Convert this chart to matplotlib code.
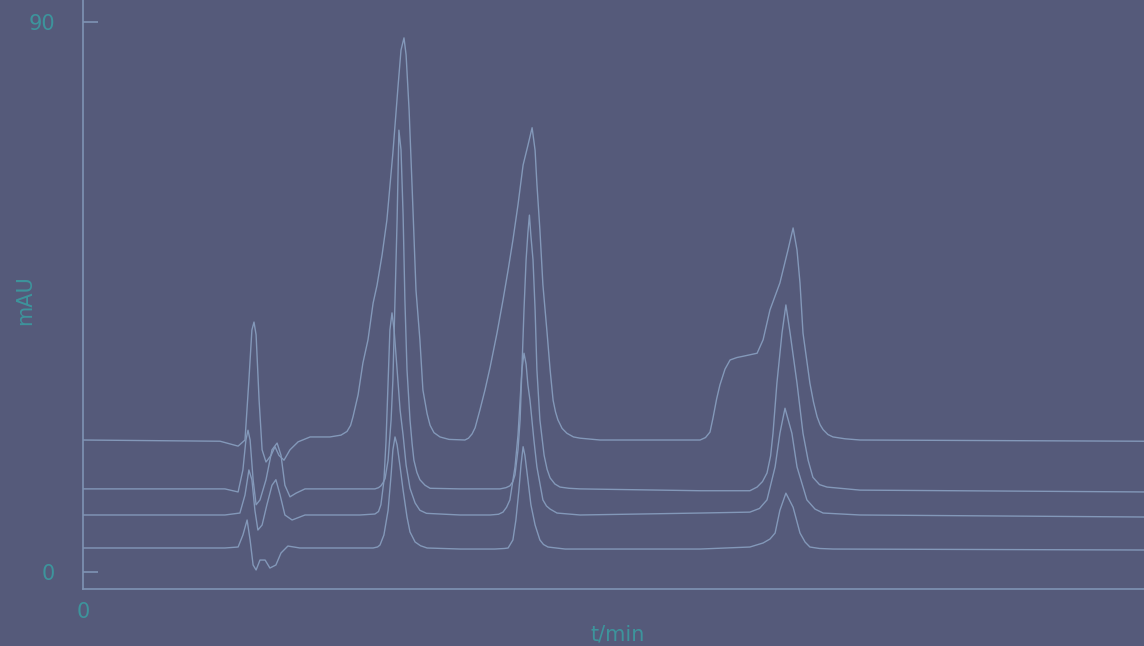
import matplotlib
matplotlib.use("Agg")
import matplotlib.pyplot as plt

# ---- data (t in min, signal in mAU) ----
tA = [0, 4.57, 5.17, 5.40, 5.53, 5.63, 5.70, 5.77, 5.87, 5.97, 6.10, 6.27, 6.40, 6.53, 6.70, 6.90, 7.17, 7.57,
      8.23, 8.60, 8.80, 8.92, 9.00, 9.17, 9.33, 9.50, 9.67, 9.80, 9.97, 10.13, 10.33, 10.50, 10.60, 10.70, 10.77,
      10.87, 10.97, 11.10, 11.23, 11.33, 11.47, 11.57, 11.70, 11.90, 12.20, 12.73, 12.85, 12.97, 13.07, 13.23,
      13.40, 13.57, 13.80, 14.00, 14.17, 14.33, 14.50, 14.67, 14.83, 14.97, 15.07, 15.13, 15.23, 15.33, 15.47,
      15.57, 15.67, 15.75, 15.83, 15.97, 16.13, 16.35, 16.57, 17.23, 20.57, 20.75, 20.90, 21.00, 21.12, 21.23,
      21.40, 21.57, 21.80, 22.00, 22.47, 22.67, 22.90, 23.23, 23.50, 23.67, 23.80, 23.90, 24.00, 24.23, 24.35,
      24.47, 24.57, 24.67, 24.83, 25.00, 25.40, 25.90, 35.37]
yA = [21.6, 21.4, 20.6, 21.6, 31.4, 39.6, 40.9, 38.8, 28.1, 20.0, 18.0, 19.1, 20.5, 19.1, 18.3, 20.0, 21.3, 22.1,
      22.1, 22.4, 23.0, 24.0, 25.4, 29.0, 34.2, 38.0, 44.0, 46.9, 51.9, 57.6, 68.6, 79.4, 85.4, 87.4, 84.6,
      75.6, 63.0, 46.1, 38.0, 29.8, 25.9, 24.0, 22.8, 22.1, 21.7, 21.6, 21.9, 22.6, 23.6, 26.5,
      29.8, 33.5, 39.1, 44.5, 49.4, 54.3, 60.1, 66.6, 69.8, 72.7, 69.0, 63.5, 56.0, 47.0, 39.1,
      33.1, 28.1, 26.2, 24.9, 23.5, 22.7, 22.1, 21.9, 21.6, 21.6, 22.0, 22.9, 25.2, 28.3, 30.6,
      33.2, 34.7, 35.1, 35.3, 35.8, 38.0, 42.9, 47.3, 52.7, 56.3, 52.7, 47.3, 39.1, 30.9, 27.8,
      25.4, 24.1, 23.3, 22.5, 22.1, 21.8, 21.6, 21.4]

tB = [0, 4.73, 5.17, 5.33, 5.43, 5.50, 5.57, 5.67, 5.77, 5.90, 6.10, 6.30, 6.47, 6.60, 6.73, 6.90, 7.10, 7.40,
      9.23, 9.73, 9.85, 9.93, 10.00, 10.07, 10.17, 10.27, 10.33, 10.40, 10.47, 10.53, 10.60, 10.67, 10.73, 10.80,
      10.90, 10.97, 11.03, 11.13, 11.23, 11.40, 11.57, 12.57, 13.90, 14.10, 14.23, 14.33, 14.40, 14.50, 14.57,
      14.63, 14.70, 14.77, 14.83, 14.88, 14.93, 15.00, 15.07, 15.13, 15.23, 15.37, 15.47, 15.57, 15.73, 15.90,
      16.20, 16.57, 20.57, 22.23, 22.47, 22.65, 22.80, 22.92, 23.00, 23.13, 23.30, 23.43, 23.57, 23.80, 24.00,
      24.17, 24.33, 24.55, 24.80, 25.90, 35.37]
yB = [13.6, 13.6, 13.1, 16.7, 21.6, 23.2, 21.6, 15.1, 11.0, 11.8, 15.1, 20.0, 21.1, 19.1, 14.2, 12.3, 12.9, 13.6,
      13.6, 13.6, 13.8, 14.1, 14.6, 15.3, 18.3, 24.9, 31.4, 44.5, 57.6, 72.3, 69.1, 58.4, 44.5, 33.1,
      24.9, 21.0, 18.3, 16.3, 15.1, 14.2, 13.7, 13.6, 13.6, 13.8, 14.1, 14.8, 15.9, 20.0, 24.9,
      33.1, 42.9, 51.1, 55.5, 58.4, 55.0, 51.1, 42.9, 33.1, 24.9, 19.1, 16.8, 15.4, 14.4, 13.9,
      13.7, 13.6, 13.3, 13.3, 13.9, 14.8, 16.2, 19.0, 22.7, 30.9, 39.1, 43.7, 39.1, 30.9, 22.7,
      18.3, 15.5, 14.3, 13.9, 13.4, 13.1]

tC = [0, 4.73, 5.23, 5.40, 5.53, 5.63, 5.73, 5.83, 5.97, 6.13, 6.30, 6.43, 6.57, 6.73, 6.97, 7.40,
      9.23, 9.73, 9.85, 9.93, 10.03, 10.10, 10.17, 10.23, 10.30, 10.37, 10.47, 10.57, 10.67, 10.77, 10.90, 11.07,
      11.23, 11.45, 12.57, 13.57, 13.85, 14.00, 14.12, 14.23, 14.40, 14.50, 14.57, 14.63, 14.70, 14.77, 14.83,
      14.90, 15.03, 15.13, 15.33, 15.45, 15.57, 15.80, 16.57, 20.57, 22.23, 22.55, 22.80, 23.07, 23.23, 23.40,
      23.63, 23.80, 24.13, 24.40, 24.67, 25.90, 35.37]
yC = [9.33, 9.33, 9.65, 12.6, 16.7, 15.1, 10.1, 6.87, 7.69, 11.0, 14.2, 15.1, 12.6, 9.33, 8.51, 9.33,
      9.33, 9.49, 9.9, 11.0, 14.9, 21.3, 31.1, 39.6, 42.4, 39.6, 33.1, 26.5, 22.4, 17.5, 13.7, 11.3,
      10.1, 9.6, 9.33, 9.33, 9.45, 9.8, 10.6, 11.8, 17.2, 22.4, 28.1, 33.1, 35.8, 34.0, 30.6,
      28.1, 21.6, 17.2, 11.8, 10.8, 10.3, 9.65, 9.33, 9.65, 9.8, 10.4, 11.8, 17.2, 22.7, 26.8,
      22.7, 17.2, 11.8, 10.3, 9.65, 9.33, 9.0]

tD = [0, 4.73, 5.17, 5.33, 5.47, 5.57, 5.67, 5.77, 5.90, 6.07, 6.23, 6.43, 6.60, 6.83, 7.23,
      9.23, 9.67, 9.82, 9.90, 10.03, 10.17, 10.27, 10.33, 10.40, 10.47, 10.57, 10.67, 10.80, 10.90, 11.07, 11.25,
      11.47, 12.57, 13.73, 14.05, 14.17, 14.33, 14.43, 14.53, 14.60, 14.67, 14.73, 14.83, 14.93, 15.07, 15.23,
      15.35, 15.50, 16.07, 20.57, 22.23, 22.67, 22.90, 23.07, 23.23, 23.43, 23.67, 23.90, 24.07, 24.23, 24.55,
      25.00, 35.37]
yD = [3.93, 3.93, 4.09, 6.05, 8.51, 5.24, 1.15, 0.33, 1.96, 1.96, 0.65, 1.15, 3.11, 4.25, 3.93,
      3.93, 3.93, 4.1, 4.42, 6.05, 10.1, 15.9, 20.0, 22.1, 20.8, 17.2, 13.4, 9.0, 6.55, 4.91, 4.3,
      3.93, 3.76, 3.76, 3.85, 3.93, 5.24, 8.51, 13.4, 17.5, 20.5, 19.1, 15.1, 11.0, 7.69, 5.24,
      4.5, 4.09, 3.76, 3.76, 4.09, 4.75, 5.4, 6.38, 10.1, 12.9, 10.6, 6.38, 4.9, 4.09, 3.85,
      3.76, 3.6]

traces = [(tA, yA), (tB, yB), (tC, yC), (tD, yD)]

y_ticks = [0, 90]
y_ticklabels = ["0", "90"]
x_ticks = [0]
x_ticklabels = ["0"]
x_label = "t/min"
y_label = "mAU"

# ---- style ----
BG = "#555a7a"
LINE = "#8398b9"
AXC = "#7f93b4"
TXT = "#3d949c"

W, H = 1144, 646
fig = plt.figure(figsize=(W / 100, H / 100), dpi=100, facecolor=BG)
ax = fig.add_axes([83 / W, (H - 589) / H, (W - 83) / W, 589 / H])
ax.set_facecolor(BG)

for t, y in traces:
    ax.plot(t, y, color=LINE, lw=1.0, solid_joinstyle="round", antialiased=True)

ax.set_xlim(0, 1061 / 30)
ax.set_ylim(-2.78, 93.6)

for s in ["top", "right"]:
    ax.spines[s].set_visible(False)
for s in ["left", "bottom"]:
    ax.spines[s].set_color(AXC)
    ax.spines[s].set_linewidth(1.2)

ax.set_yticks(y_ticks)
ax.set_yticklabels(y_ticklabels)
ax.set_xticks(x_ticks)
ax.set_xticklabels(x_ticklabels)
ax.tick_params(axis="y", direction="in", length=11, width=1.2, color=AXC,
               labelcolor=TXT, labelsize=15, pad=20)
ax.tick_params(axis="x", direction="in", length=0, labelcolor=TXT, labelsize=15, pad=9)

fig.text(25 / W, 1 - 300 / H, y_label, rotation=90, color=TXT, fontsize=15,
         ha="center", va="center")
fig.text(618 / W, 1 / H, x_label, color=TXT, fontsize=15, ha="center", va="bottom")

fig.savefig("out.png", dpi=100, facecolor=BG)
